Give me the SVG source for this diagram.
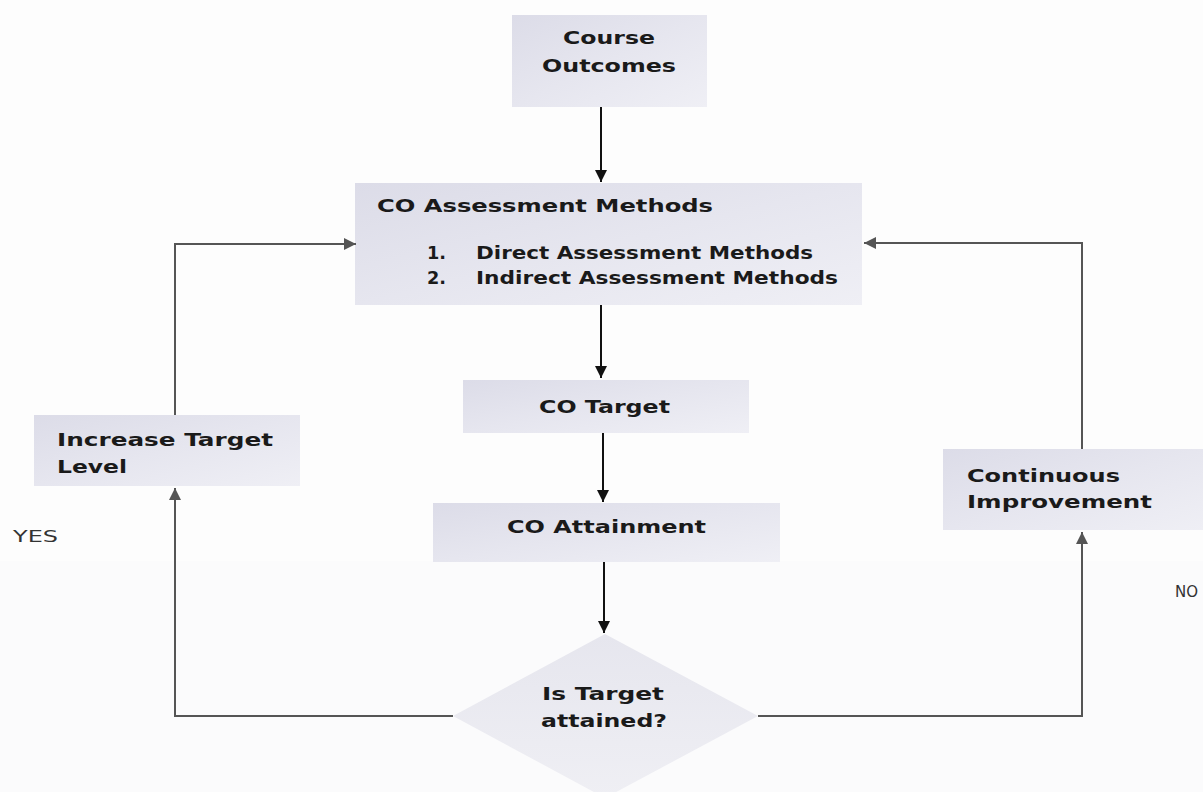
<svg xmlns="http://www.w3.org/2000/svg" width="1203" height="792" viewBox="0 0 1203 792">
<defs>
<linearGradient id="boxg" x1="0" y1="0" x2="1" y2="1">
<stop offset="0" stop-color="#dcdce8"/>
<stop offset="0.5" stop-color="#e6e6ef"/>
<stop offset="1" stop-color="#efeff5"/>
</linearGradient>
<linearGradient id="diag" x1="0" y1="0" x2="0" y2="1">
<stop offset="0" stop-color="#e6e6ee"/>
<stop offset="1" stop-color="#efeff4"/>
</linearGradient>
<marker id="ab" viewBox="0 0 10 10" refX="10" refY="5" markerWidth="12" markerHeight="12" markerUnits="userSpaceOnUse" orient="auto">
<path d="M0,0 L10,5 L0,10 z" fill="#111"/>
</marker>
<marker id="ag" viewBox="0 0 10 10" refX="10" refY="5" markerWidth="12" markerHeight="12" markerUnits="userSpaceOnUse" orient="auto">
<path d="M0,0 L10,5 L0,10 z" fill="#555"/>
</marker>
</defs>
<style>
.box{fill:url(#boxg);}
.dia{fill:url(#diag);}
.t{font-family:"DejaVu Sans","Verdana",sans-serif;font-weight:bold;font-size:18px;fill:#1a1a1a;}
.lbl{font-family:"DejaVu Sans","Verdana",sans-serif;font-size:15px;fill:#333;}
.ca{stroke:#111;stroke-width:2;fill:none;marker-end:url(#ab);}
.ga{stroke:#555;stroke-width:2;fill:none;marker-end:url(#ag);}
</style>
<rect width="1203" height="792" fill="#fdfdfd"/>
<rect y="561" width="1203" height="231" fill="#fbfbfc"/>

<g id="course-outcomes">
<rect class="box" x="512" y="15" width="195" height="92"/>
<text class="t" x="563" y="44" textLength="92" lengthAdjust="spacingAndGlyphs">Course</text>
<text class="t" x="542" y="72" textLength="134" lengthAdjust="spacingAndGlyphs">Outcomes</text>
</g>

<g id="co-assessment-methods">
<rect class="box" x="355" y="183" width="507" height="122"/>
<text class="t" x="377" y="212" textLength="336" lengthAdjust="spacingAndGlyphs">CO Assessment Methods</text>
<text class="t" x="427" y="259" textLength="19" lengthAdjust="spacingAndGlyphs">1.</text>
<text class="t" x="476" y="259" textLength="337" lengthAdjust="spacingAndGlyphs">Direct Assessment Methods</text>
<text class="t" x="427" y="284" textLength="19" lengthAdjust="spacingAndGlyphs">2.</text>
<text class="t" x="476" y="284" textLength="362" lengthAdjust="spacingAndGlyphs">Indirect Assessment Methods</text>
</g>

<g id="co-target">
<rect class="box" x="463" y="380" width="286" height="53"/>
<text class="t" x="539" y="413" textLength="131" lengthAdjust="spacingAndGlyphs">CO Target</text>
</g>

<g id="co-attainment">
<rect class="box" x="433" y="503" width="347" height="59"/>
<text class="t" x="507" y="533" textLength="199" lengthAdjust="spacingAndGlyphs">CO Attainment</text>
</g>

<g id="is-target-attained">
<polygon class="dia" points="605,634 758,716 605,798 453,716"/>
<text class="t" x="542" y="700" textLength="122" lengthAdjust="spacingAndGlyphs">Is Target</text>
<text class="t" x="541" y="727" textLength="126" lengthAdjust="spacingAndGlyphs">attained?</text>
</g>

<g id="increase-target-level">
<rect class="box" x="34" y="415" width="266" height="71"/>
<text class="t" x="57" y="446" textLength="216" lengthAdjust="spacingAndGlyphs">Increase Target</text>
<text class="t" x="57" y="473" textLength="70" lengthAdjust="spacingAndGlyphs">Level</text>
</g>

<g id="continuous-improvement">
<rect class="box" x="943" y="449" width="260" height="81"/>
<text class="t" x="967" y="482" textLength="153" lengthAdjust="spacingAndGlyphs">Continuous</text>
<text class="t" x="967" y="508" textLength="185" lengthAdjust="spacingAndGlyphs">Improvement</text>
</g>

<g id="labels">
<text class="lbl" x="13" y="542" textLength="45" lengthAdjust="spacingAndGlyphs">YES</text>
<text class="lbl" x="1175" y="597">NO</text>
</g>

<g id="connectors">
<line class="ca" x1="601" y1="107" x2="601" y2="182"/>
<line class="ca" x1="601" y1="305" x2="601" y2="378"/>
<line class="ca" x1="603" y1="433" x2="603" y2="502"/>
<line class="ca" x1="604" y1="562" x2="604" y2="633"/>
<polyline class="ga" points="453,716 175,716 175,488"/>
<polyline class="ga" points="175,415 175,244 356,244"/>
<polyline class="ga" points="758,716 1082,716 1082,532"/>
<polyline class="ga" points="1082,449 1082,243 864,243"/>
</g>
</svg>
